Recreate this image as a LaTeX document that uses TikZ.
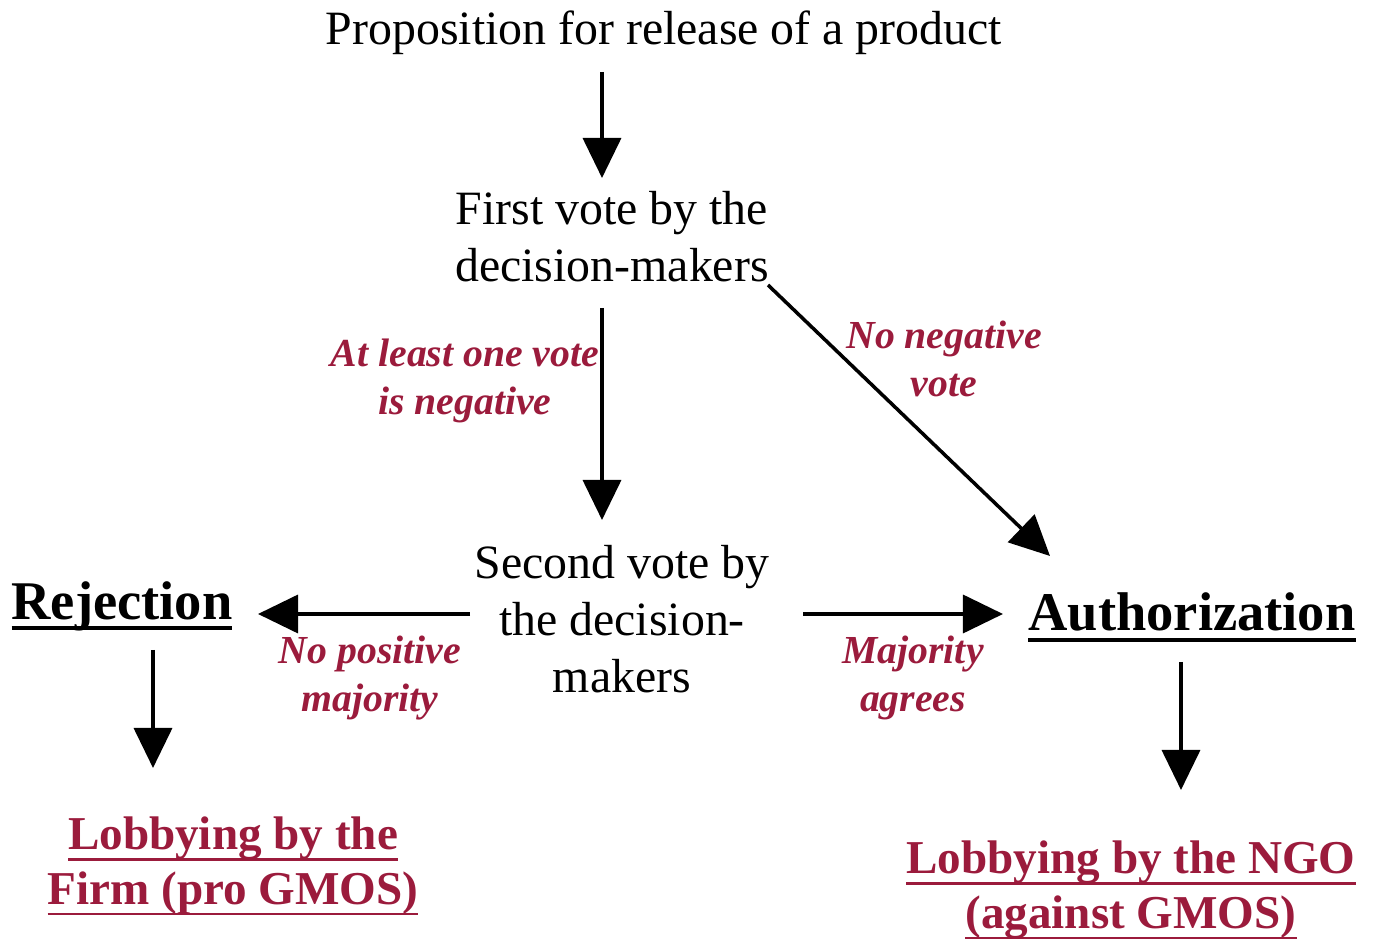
\documentclass[tikz,border=0pt]{standalone}
\usepackage{fontspec}
\setmainfont{Liberation Serif}
\usetikzlibrary{arrows.meta}
\definecolor{crim}{RGB}{155,27,60}
\newcommand\myul[2][0.8pt]{\setbox0\hbox{#2}\leavevmode\rlap{\raisebox{-3.2pt}{\rule{\wd0}{#1}}}\box0}
\begin{document}
\begin{tikzpicture}[x=0.01cm,y=-0.01cm,
  main/.style={font=\fontsize{13.6}{16.2}\selectfont,align=center,inner sep=0pt},
  head/.style={font=\fontsize{15.5}{18}\selectfont\bfseries,inner sep=0pt},
  lab/.style={font=\fontsize{11.3}{13.6}\selectfont\bfseries\itshape,text=crim,align=center,inner sep=0pt},
  lob/.style={font=\fontsize{13.4}{15.6}\selectfont\bfseries,text=crim,align=center,inner sep=0pt},
  arr/.style={line width=1pt,-{Triangle[length=0.4cm,width=0.38cm]}}]
\useasboundingbox (0,0) rectangle (1378,940);
\node[main] (prop) at (664,33) {Proposition for release of a product};
\node[main] (first) at (612,237) {First vote by the\\decision-makers};
\node[main] (second) at (622,619) {Second vote by\\the decision-\\makers};
\node[head] (rej) at (122,606) {\myul[1.1pt]{Rejection}};
\node[head] (auth) at (1192,617) {\myul[1.1pt]{Authorization}};
\node[lob] (lobf) at (233,866) {\myul{Lobbying by the}\\\myul{Firm (pro GMOS)}};
\node[lob] (lobn) at (1131,890) {\myul{Lobbying by the NGO}\\\myul{(against GMOS)}};
\node[lab] (l1) at (465,381) {At least one vote\\is negative};
\node[lab] (l2) at (944,359) {No negative\\vote};
\node[lab] (l3) at (370,678) {No positive\\majority};
\node[lab] (l4) at (913,678) {Majority\\agrees};
\coordinate (a1s) at (602,72);  \coordinate (a1e) at (602,178);
\coordinate (a2s) at (602,308); \coordinate (a2e) at (602,520);
\coordinate (a3s) at (768,285); \coordinate (a3e) at (1050,556);
\coordinate (a4s) at (470,614); \coordinate (a4e) at (258,614);
\coordinate (a5s) at (803,614); \coordinate (a5e) at (1003,614);
\coordinate (a6s) at (153,650); \coordinate (a6e) at (153,768);
\coordinate (a7s) at (1181,662); \coordinate (a7e) at (1181,790);
\draw[arr] (a1s) -- (a1e);
\draw[arr] (a2s) -- (a2e);
\draw[arr] (a3s) -- (a3e);
\draw[arr] (a4s) -- (a4e);
\draw[arr] (a5s) -- (a5e);
\draw[arr] (a6s) -- (a6e);
\draw[arr] (a7s) -- (a7e);
\end{tikzpicture}
\end{document}
